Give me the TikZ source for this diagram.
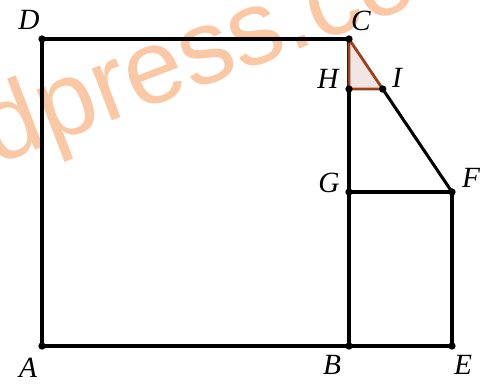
\documentclass[tikz,border=0pt]{standalone}
\usepackage{fontspec}
\setmainfont{Liberation Serif}
\newfontfamily\wmfont{Liberation Sans}
\definecolor{wm}{RGB}{250,200,165}
\definecolor{brown}{RGB}{160,64,26}
\definecolor{tfill}{RGB}{242,230,228}
\begin{document}
\begin{tikzpicture}[x=0.75pt,y=-0.75pt,
  seg/.style={line width=2.3pt,black},
  dot/.style={circle,fill=black,inner sep=0pt,minimum size=5.5pt},
  lbl/.style={font=\fontsize{22}{26}\selectfont\itshape,inner sep=0pt}]
\useasboundingbox (0,0) rectangle (490,383);
\clip (0,0) rectangle (490,383);
\fill[white] (0,0) rectangle (490,383);
\node[text=wm,font=\wmfont\fontsize{79}{90}\selectfont,rotate=21,anchor=base west,inner sep=0pt] (wmk) at (-4.5,166) {dpress.com};
\coordinate (A) at (42,346);
\coordinate (B) at (349,346);
\coordinate (E) at (452,346);
\coordinate (D) at (42,39);
\coordinate (C) at (349,39);
\coordinate (G) at (349,192);
\coordinate (F) at (452,192);
\coordinate (H) at (349,89);
\coordinate (I) at (382.7,89);
\draw[seg] (A) -- (B) -- (E) -- (F) -- (G);
\draw[seg] (A) -- (D) -- (C) -- (B);
\draw[seg] (I) -- (F);
\filldraw[fill=tfill,draw=brown,line width=2.1pt,line join=round] (C) -- (H) -- (I) -- cycle;
\foreach \p in {A,B,E,D,C,G,F,H,I} \node[dot] (d\p) at (\p) {};
\node[lbl] (lA) at (28,368) {A};
\node[lbl] (lB) at (332,365) {B};
\node[lbl] (lE) at (463,365) {E};
\node[lbl] (lD) at (29,20) {D};
\node[lbl] (lC) at (361,21) {C};
\node[lbl] (lH) at (328,79) {H};
\node[lbl] (lI) at (397,78) {I};
\node[lbl] (lG) at (329,183) {G};
\node[lbl] (lF) at (471,178) {F};
\end{tikzpicture}
\end{document}
